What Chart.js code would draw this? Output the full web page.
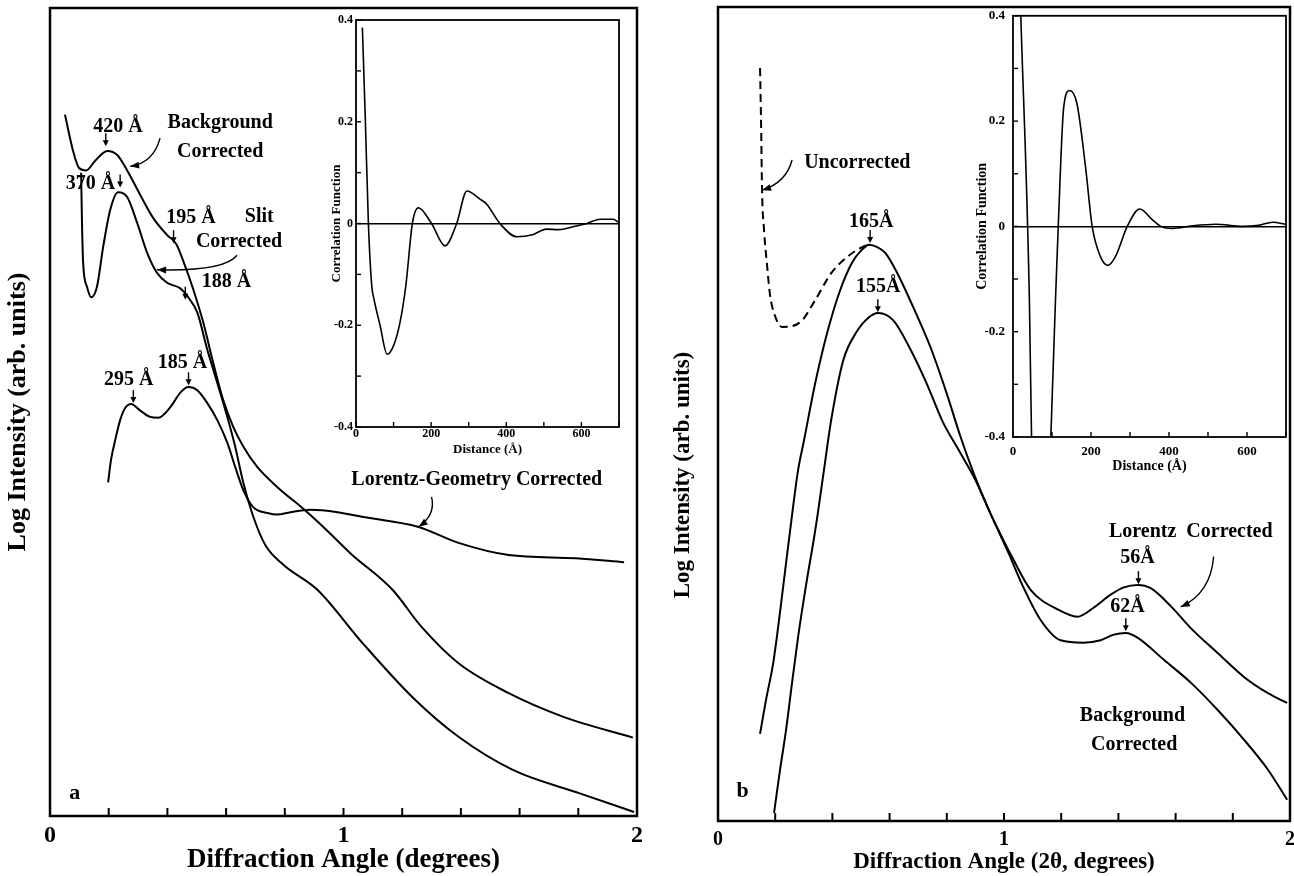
<!DOCTYPE html>
<html>
<head>
<meta charset="utf-8">
<script src="https://cdn.jsdelivr.net/npm/chart.js@4.4.1/dist/chart.umd.min.js"></script>
<style>
html, body { margin:0; padding:0; background:#fff; }
#wrap { position:relative; width:1294px; height:876px; overflow:hidden; background:#fff; }
canvas { position:absolute; }
</style>
</head>
<body>
<div id="wrap">
  <canvas id="mainA" width="648" height="876" style="left:0px;top:0px"></canvas>
  <canvas id="insetA" width="330" height="470" style="left:300px;top:0px"></canvas>
  <canvas id="mainB" width="652" height="876" style="left:650px;top:0px"></canvas>
  <canvas id="insetB" width="344" height="480" style="left:950px;top:0px"></canvas>
</div>
<script>
// panel a : diffraction angle (degrees) vs log intensity (arb. units, 0-100)
var angleBgA = [0.051,0.078,0.099,0.123,0.154,0.195,0.229,0.263,0.307,0.352,0.399,0.430,0.457,0.488,0.522,0.556,0.590,0.625,0.659,0.706,0.775,0.867,0.942,1.024,1.167,1.266,1.392,1.563,1.747,1.986];
var logBgA   = [86.8,82.4,80.2,79.9,81.1,82.3,81.8,79.9,76.9,74.0,71.9,70.8,68.4,65.2,61.1,56.1,51.5,48.1,45.7,43.2,40.7,37.9,35.4,32.5,28.0,23.4,18.9,15.2,12.3,9.7];
var angleSlitA = [0.106,0.109,0.113,0.126,0.140,0.160,0.181,0.205,0.232,0.263,0.297,0.331,0.365,0.399,0.444,0.471,0.502,0.536,0.570,0.604,0.631,0.659,0.693,0.734,0.795,0.911,1.065,1.235,1.392,1.577,1.805,1.990];
var logSlitA   = [79.6,73.4,68.4,65.5,64.2,65.5,70.4,75.0,77.2,76.6,73.4,69.7,67.2,66.0,65.3,64.2,62.3,57.7,53.6,49.4,45.7,41.2,37.0,33.5,31.1,28.0,21.4,14.7,9.8,5.7,2.8,0.5];
var angleLorA = [0.198,0.208,0.222,0.239,0.256,0.276,0.307,0.341,0.369,0.410,0.444,0.471,0.502,0.536,0.570,0.604,0.631,0.659,0.693,0.741,0.775,0.819,0.887,0.980,1.068,1.253,1.392,1.563,1.792,1.956];
var logLorA   = [41.3,44.1,46.5,49.0,50.5,51.0,50.2,49.4,49.3,50.6,52.4,53.1,52.7,51.1,49.0,46.2,43.2,40.3,38.2,37.5,37.3,37.6,37.9,37.6,37.0,35.8,33.8,32.3,31.9,31.4];

// panel b : 2theta (degrees) vs log intensity
var angleUncB = [0.147,0.151,0.154,0.161,0.172,0.182,0.196,0.224,0.259,0.294,0.340,0.396,0.452,0.504,0.529];
var logUncB   = [92.5,84.9,77.5,72.6,68.1,64.6,62.4,60.7,60.8,61.5,64.0,67.3,69.3,70.5,70.8];
var angleLorB = [0.147,0.168,0.193,0.217,0.238,0.259,0.280,0.301,0.340,0.382,0.424,0.469,0.501,0.529,0.557,0.585,0.627,0.683,0.743,0.799,0.848,0.893,0.942,0.988,1.030,1.093,1.187,1.257,1.313,1.373,1.419,1.468,1.513,1.583,1.653,1.748,1.839,1.923,1.990];
var logLorB   = [10.7,14.9,19.4,25.7,31.7,37.6,43.1,46.8,53.8,60.0,64.9,68.6,70.1,70.8,70.5,69.8,67.3,63.1,58.2,52.6,47.2,42.8,38.6,35.2,32.3,28.4,26.0,25.1,26.2,27.8,28.7,29.0,28.6,26.4,23.7,20.6,17.7,15.7,14.5];
var angleBgB = [0.196,0.217,0.238,0.259,0.280,0.308,0.340,0.368,0.396,0.438,0.483,0.525,0.560,0.613,0.669,0.729,0.785,0.841,0.900,0.960,1.016,1.068,1.128,1.198,1.278,1.338,1.384,1.426,1.468,1.559,1.653,1.748,1.839,1.923,1.990];
var logBgB   = [1.0,6.3,11.2,17.0,22.6,29.0,35.7,42.5,49.3,56.6,60.0,61.8,62.4,61.5,58.2,53.8,49.1,45.6,41.9,37.2,32.9,28.7,24.7,22.2,21.9,22.2,22.9,23.1,22.5,19.8,17.0,13.6,10.0,6.3,2.6];

// insets : correlation function vs distance (A)
var distA = [17,25,33,42,48,64,83,100,117,133,150,166,201,237,268,295,330,348,383,428,470,507,539,580,614,650,685,697];
var corrA = [0.385,0.2,0.0,-0.123,-0.149,-0.2,-0.257,-0.24,-0.195,-0.12,0.0,0.031,0.0,-0.044,0.0,0.064,0.048,0.038,0.0,-0.026,-0.022,-0.011,-0.012,-0.006,0.0,0.0085,0.0085,0.003];
var distB = [20,42,48,72,97,109,116,130,145,164,186,203,224,243,263,293,325,357,379,409,460,520,589,630,666,700];
var corrB = [0.40,-0.138,-0.42,-0.9,-0.40,-0.138,0.0,0.226,0.258,0.233,0.113,0.0,-0.057,-0.074,-0.057,0.0,0.033,0.013,0.0,-0.004,0.001,0.004,0.0,0.002,0.008,0.004];

var mainTickLabels = ['0', '1', '2'];
var insetXLabels = ['0', '200', '400', '600'];
var insetYLabels = ['-0.4', '-0.2', '0', '0.2', '0.4'];

var notesA = {
  font: 'bold 20px "Liberation Serif"',
  texts: [
    {t:'420 Å', x:0.232, y:85.3},
    {t:'Background', x:0.580, y:85.8},
    {t:'Corrected', x:0.580, y:82.2},
    {t:'370 Å', x:0.138, y:78.3},
    {t:'195 Å', x:0.480, y:74.0},
    {t:'Slit', x:0.713, y:74.1},
    {t:'Corrected', x:0.644, y:71.0},
    {t:'188 Å', x:0.601, y:66.1},
    {t:'185 Å', x:0.451, y:56.1},
    {t:'295 Å', x:0.268, y:54.0},
    {t:'Lorentz-Geometry Corrected', x:1.454, y:41.6},
    {t:'a', x:0.084, y:2.85, font:'bold 22px "Liberation Serif"'}
  ],
  arrows: [{x:0.190,y:82.9},{x:0.239,y:77.8},{x:0.421,y:70.9},{x:0.461,y:63.9},{x:0.472,y:53.3},{x:0.284,y:51.1}],
  curves: [
    {x1:0.375,y1:83.9,cx:0.352,cy:80.8,x2:0.273,y2:80.4},
    {x1:0.637,y1:69.4,cx:0.595,cy:67.4,x2:0.365,y2:67.6},
    {x1:1.300,y1:39.5,cx:1.315,cy:37.3,x2:1.256,y2:35.8}
  ]
};

var notesB = {
  font: 'bold 20px "Liberation Serif"',
  texts: [
    {t:'Uncorrected', x:0.487, y:80.8},
    {t:'165Å', x:0.536, y:73.6},
    {t:'155Å', x:0.560, y:65.6},
    {t:'Lorentz  Corrected', x:1.653, y:35.5},
    {t:'56Å', x:1.467, y:32.3},
    {t:'62Å', x:1.432, y:26.3},
    {t:'Background', x:1.449, y:12.9},
    {t:'Corrected', x:1.455, y:9.3},
    {t:'b', x:0.086, y:3.6, font:'bold 22px "Liberation Serif"'},
    {t:'Log Intensity (arb. units)', x:-0.122, y:42.5, rot:-90, font:'bold 23px "Liberation Serif"'}
  ],
  arrows: [{x:0.532,y:71.0},{x:0.559,y:62.5},{x:1.470,y:29.1},{x:1.426,y:23.3}],
  curves: [
    {x1:0.259,y1:81.2,cx:0.238,cy:78.4,x2:0.154,y2:77.5},
    {x1:1.733,y1:32.5,cx:1.723,cy:28.0,x2:1.618,y2:26.3}
  ]
};

Chart.defaults.font.family = '"Liberation Serif", "Times New Roman", serif';
Chart.defaults.color = '#000';
Chart.defaults.animation = false;
Chart.defaults.events = [];
Chart.defaults.plugins.legend.display = false;
Chart.defaults.plugins.tooltip.enabled = false;

function pts(xs, ys) {
  var out = [];
  for (var i = 0; i < xs.length; i++) out.push({x: xs[i], y: ys[i]});
  return out;
}

function frame(w, fill) {
  return {
    id: 'frame',
    beforeDraw: function(chart) {
      if (!fill) return;
      var a = chart.chartArea, ctx = chart.ctx;
      ctx.save(); ctx.fillStyle = '#fff';
      ctx.fillRect(a.left, a.top, a.right - a.left, a.bottom - a.top);
      ctx.restore();
    },
    afterDraw: function(chart) {
      var a = chart.chartArea, ctx = chart.ctx;
      ctx.save(); ctx.strokeStyle = '#000'; ctx.lineWidth = w;
      ctx.strokeRect(a.left, a.top, a.right - a.left, a.bottom - a.top);
      ctx.restore();
    }
  };
}

function innerTicks(list) {
  return {
    id: 'innerTicks',
    afterDraw: function(chart) {
      var ctx = chart.ctx, a = chart.chartArea;
      ctx.save(); ctx.strokeStyle = '#000';
      list.forEach(function(t) {
        var s = chart.scales[t.id];
        ctx.lineWidth = t.width;
        s.ticks.forEach(function(tk) {
          var p = s.getPixelForValue(tk.value);
          ctx.beginPath();
          if (s.isHorizontal()) { ctx.moveTo(p, a.bottom); ctx.lineTo(p, a.bottom - t.len); }
          else { ctx.moveTo(a.left, p); ctx.lineTo(a.left + t.len, p); }
          ctx.stroke();
        });
      });
      ctx.restore();
    }
  };
}

function notes(n) {
  return {
    id: 'notes',
    afterDatasetsDraw: function(chart) {
      var ctx = chart.ctx, xs = chart.scales.x, ys = chart.scales.y;
      function X(v) { return xs.getPixelForValue(v); }
      function Y(v) { return ys.getPixelForValue(v); }
      ctx.save();
      ctx.fillStyle = '#000'; ctx.strokeStyle = '#000';
      ctx.textAlign = 'center'; ctx.textBaseline = 'middle';
      n.texts.forEach(function(t) {
        ctx.font = t.font || n.font;
        ctx.save();
        ctx.translate(X(t.x), Y(t.y));
        if (t.rot) ctx.rotate(t.rot * Math.PI / 180);
        ctx.fillText(t.t, 0, 0);
        ctx.restore();
      });
      ctx.lineWidth = 1.4;
      n.arrows.forEach(function(p) {
        var x = X(p.x), y = Y(p.y);
        ctx.beginPath(); ctx.moveTo(x, y - 13); ctx.lineTo(x, y - 5); ctx.stroke();
        ctx.beginPath(); ctx.moveTo(x - 3, y - 6); ctx.lineTo(x + 3, y - 6); ctx.lineTo(x, y); ctx.closePath(); ctx.fill();
      });
      n.curves.forEach(function(c) {
        var x1 = X(c.x1), y1 = Y(c.y1), cx = X(c.cx), cy = Y(c.cy), x2 = X(c.x2), y2 = Y(c.y2);
        ctx.beginPath(); ctx.moveTo(x1, y1); ctx.quadraticCurveTo(cx, cy, x2, y2); ctx.stroke();
        var ang = Math.atan2(y2 - cy, x2 - cx), ca = Math.cos(ang), sa = Math.sin(ang);
        ctx.beginPath();
        ctx.moveTo(x2, y2);
        ctx.lineTo(x2 - 9 * ca + 3.5 * sa, y2 - 9 * sa - 3.5 * ca);
        ctx.lineTo(x2 - 9 * ca - 3.5 * sa, y2 - 9 * sa + 3.5 * ca);
        ctx.closePath(); ctx.fill();
      });
      ctx.restore();
    }
  };
}

function line(data, dash) {
  return {data: data, borderColor: '#000', borderWidth: 2, borderDash: dash || [], pointRadius: 0,
    fill: false, cubicInterpolationMode: 'monotone'};
}

function mainChart(id, datasets, o) {
  return new Chart(document.getElementById(id), {
    type: 'line',
    data: {datasets: datasets},
    options: {
      responsive: false, devicePixelRatio: 1,
      layout: {autoPadding: false, padding: o.pad},
      scales: {
        x: {
          type: 'linear', min: 0, max: 2,
          border: {display: false}, grid: {display: false, drawTicks: false},
          ticks: {stepSize: 0.2, autoSkip: false, maxRotation: 0, padding: o.tickPad,
            font: {size: o.tickSize, weight: 'bold'},
            callback: function(v) { var r = Math.round(v); return Math.abs(v - r) < 1e-6 ? mainTickLabels[r] : ''; }},
          title: {display: true, text: o.xTitle, font: {size: o.xTitleSize, weight: 'bold'}, padding: {top: 0, bottom: o.xTitlePad}},
          afterFit: function(s) { s.height = o.xH; }
        },
        y: {
          min: 0, max: 100,
          border: {display: false}, grid: {display: false, drawTicks: false},
          ticks: {display: false},
          title: o.yTitle ? {display: true, text: o.yTitle, font: {size: o.yTitleSize, weight: 'bold'}, padding: {top: o.yTitlePad, bottom: 0}} : {display: false},
          afterFit: function(s) { s.width = o.yW; }
        }
      }
    },
    plugins: [frame(2.5, false), innerTicks([{id: 'x', len: 8, width: 2}]), notes(o.notes)]
  });
}

function insetChart(id, xs, ys, o) {
  return new Chart(document.getElementById(id), {
    type: 'line',
    data: {datasets: [{data: pts(xs, ys), borderColor: '#000', borderWidth: 1.6, pointRadius: 0, fill: false, cubicInterpolationMode: 'monotone'}]},
    options: {
      responsive: false, devicePixelRatio: 1,
      layout: {autoPadding: false, padding: {top: o.top, right: o.right, left: 0, bottom: 0}},
      scales: {
        x: {
          type: 'linear', min: 0, max: 700,
          border: {display: false}, grid: {display: false, drawTicks: false},
          ticks: {stepSize: 100, autoSkip: false, maxRotation: 0, padding: o.xPad, font: {size: o.tick, weight: 'bold'},
            callback: function(v) { return v % 200 === 0 ? insetXLabels[v / 200] : ''; }},
          title: {display: true, text: 'Distance (Å)', font: {size: o.title, weight: 'bold'}, padding: {top: 0, bottom: o.xtPad}},
          afterFit: function(s) { s.height = o.xH; }
        },
        y: {
          min: -0.4, max: 0.4,
          border: {display: false},
          grid: {drawTicks: false, lineWidth: 1.4,
            color: function(c) { return c.tick && Math.abs(c.tick.value) < 1e-9 ? '#000' : 'rgba(0,0,0,0)'; }},
          ticks: {stepSize: 0.1, autoSkip: false, padding: o.yPad, font: {size: o.tick, weight: 'bold'},
            callback: function(v) { var k = Math.round(v * 10); return k % 2 === 0 ? insetYLabels[k / 2 + 2] : ''; }},
          title: {display: true, text: 'Correlation Function', font: {size: o.title, weight: 'bold'}, padding: {top: o.ytPad, bottom: 0}},
          afterFit: function(s) { s.width = o.yW; }
        }
      }
    },
    plugins: [frame(1.8, true), innerTicks([{id: 'x', len: 5, width: 1.4}, {id: 'y', len: 5, width: 1.4}])]
  });
}

mainChart('mainA', [
  line(pts(angleBgA, logBgA)),
  line(pts(angleSlitA, logSlitA)),
  line(pts(angleLorA, logLorA))
], {
  pad: {top: 8, right: 4, left: 0, bottom: 0}, xH: 60, yW: 50,
  tickPad: 5, tickSize: 24,
  xTitle: 'Diffraction Angle (degrees)', xTitleSize: 27, xTitlePad: 0,
  yTitle: 'Log Intensity (arb. units)', yTitleSize: 26, yTitlePad: 3,
  notes: notesA
});

mainChart('mainB', [
  line(pts(angleUncB, logUncB), [8, 5]),
  line(pts(angleLorB, logLorB)),
  line(pts(angleBgB, logBgB))
], {
  pad: {top: 7, right: 4, left: 0, bottom: 0}, xH: 55, yW: 68,
  tickPad: 7, tickSize: 20,
  xTitle: 'Diffraction Angle (2θ, degrees)', xTitleSize: 23, xTitlePad: 0,
  yTitle: null,
  notes: notesB
});

insetChart('insetA', distA, corrA, {top: 20, right: 11, xH: 43, yW: 56, tick: 12, title: 13, xPad: 0, yPad: 3, xtPad: 13, ytPad: 29});
insetChart('insetB', distB, corrB, {top: 15, right: 8, xH: 43, yW: 63, tick: 13, title: 14, xPad: 7, yPad: 8, xtPad: 5, ytPad: 24});
</script>
</body>
</html>
